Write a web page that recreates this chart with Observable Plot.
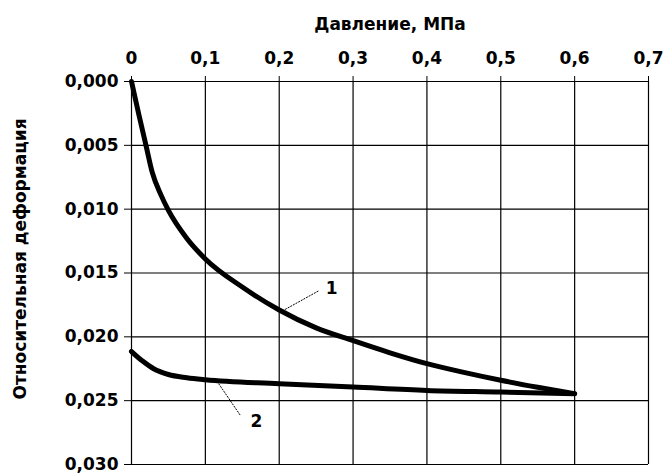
<!DOCTYPE html>
<html>
<head>
<meta charset="utf-8">
<script src="https://cdn.jsdelivr.net/npm/d3@7"></script>
<script src="https://cdn.jsdelivr.net/npm/@observablehq/plot@0.6"></script>
<style>
  html, body { margin: 0; padding: 0; background: #fff; }
</style>
</head>
<body>
<div id="chart"></div>
<script>
// Pressure, MPa (x) and relative deformation (y)
const x1 = [0, 0.01, 0.02, 0.028, 0.04, 0.05, 0.075, 0.1, 0.15, 0.2, 0.25, 0.3, 0.35, 0.4, 0.45, 0.5, 0.55, 0.6];
const y1 = [0, 0.0026, 0.0051, 0.0071, 0.0089, 0.0101, 0.0123, 0.0139, 0.0161, 0.0179, 0.0193, 0.0203, 0.02125, 0.0221, 0.02278, 0.0234, 0.02395, 0.02445];
const x2 = [0, 0.015, 0.03, 0.05, 0.075, 0.1, 0.2, 0.3, 0.4, 0.5, 0.6];
const y2 = [0.02115, 0.0219, 0.0225, 0.02295, 0.0232, 0.02336, 0.02367, 0.02393, 0.0242, 0.02432, 0.02445];

const xTicks = [0, 0.1, 0.2, 0.3, 0.4, 0.5, 0.6, 0.7];
const yTicks = [0, 0.005, 0.010, 0.015, 0.020, 0.025, 0.030];

const xTitle = "Давление, МПа";
const yTitle = "Относительная деформация";

// curve labels and leader lines
const curveLabels = ["1", "2"];
const labelX = [0.263, 0.161];
const labelY = [0.01625, 0.02664];
const leaderX1 = [0.2044, 0.118];
const leaderY1 = [0.01797, 0.02367];
const leaderX2 = [0.253, 0.1476];
const leaderY2 = [0.01641, 0.02617];

const s1 = x1.map((x, i) => ({x, y: y1[i]}));
const s2 = x2.map((x, i) => ({x, y: y2[i]}));
const labels = curveLabels.map((t, i) => ({t, x: labelX[i], y: labelY[i]}));
const leaders = curveLabels.map((t, i) => ({x1: leaderX1[i], y1: leaderY1[i], x2: leaderX2[i], y2: leaderY2[i]}));

const fmtX = d => d === 0 ? "0" : d3.format(".1f")(d).replace(".", ",");
const fmtY = d => d3.format(".3f")(d).replace(".", ",");

const chart = Plot.plot({
  width: 664,
  height: 474,
  marginLeft: 131,
  marginRight: 16,
  marginTop: 81,
  marginBottom: 10,
  style: {fontFamily: "DejaVu Sans", fontWeight: "bold", fontSize: "17px", color: "black", background: "white"},
  x: {domain: [0, 0.7], axis: "top", ticks: xTicks, tickFormat: fmtX, tickSize: 6, tickPadding: 12, label: null},
  y: {domain: [0, 0.03], reverse: true, ticks: yTicks, tickFormat: fmtY, tickSize: 7, tickPadding: 6, label: null},
  marks: [
    Plot.ruleX(xTicks, {stroke: "black", strokeWidth: 1.2}),
    Plot.ruleY(yTicks, {stroke: "black", strokeWidth: 1.2}),
    Plot.line(s1, {x: "x", y: "y", stroke: "black", strokeWidth: 5, curve: "monotone-x"}),
    Plot.line(s2, {x: "x", y: "y", stroke: "black", strokeWidth: 5, curve: "monotone-x"}),
    Plot.link(leaders, {x1: "x1", y1: "y1", x2: "x2", y2: "y2", stroke: "black", strokeWidth: 1, strokeDasharray: "2,1"}),
    Plot.text(labels, {x: "x", y: "y", text: "t", textAnchor: "start", fontSize: 17, fontWeight: "bold"}),
    Plot.text([xTitle], {frameAnchor: "top", lineAnchor: "middle", textAnchor: "middle", dy: -57, fontSize: 17, fontWeight: "bold"}),
    Plot.text([yTitle], {frameAnchor: "left", textAnchor: "middle", lineAnchor: "middle", rotate: -90, dx: -111, dy: -14, fontSize: 17, fontWeight: "bold"})
  ]
});
document.getElementById("chart").appendChild(chart);
</script>
</body>
</html>
